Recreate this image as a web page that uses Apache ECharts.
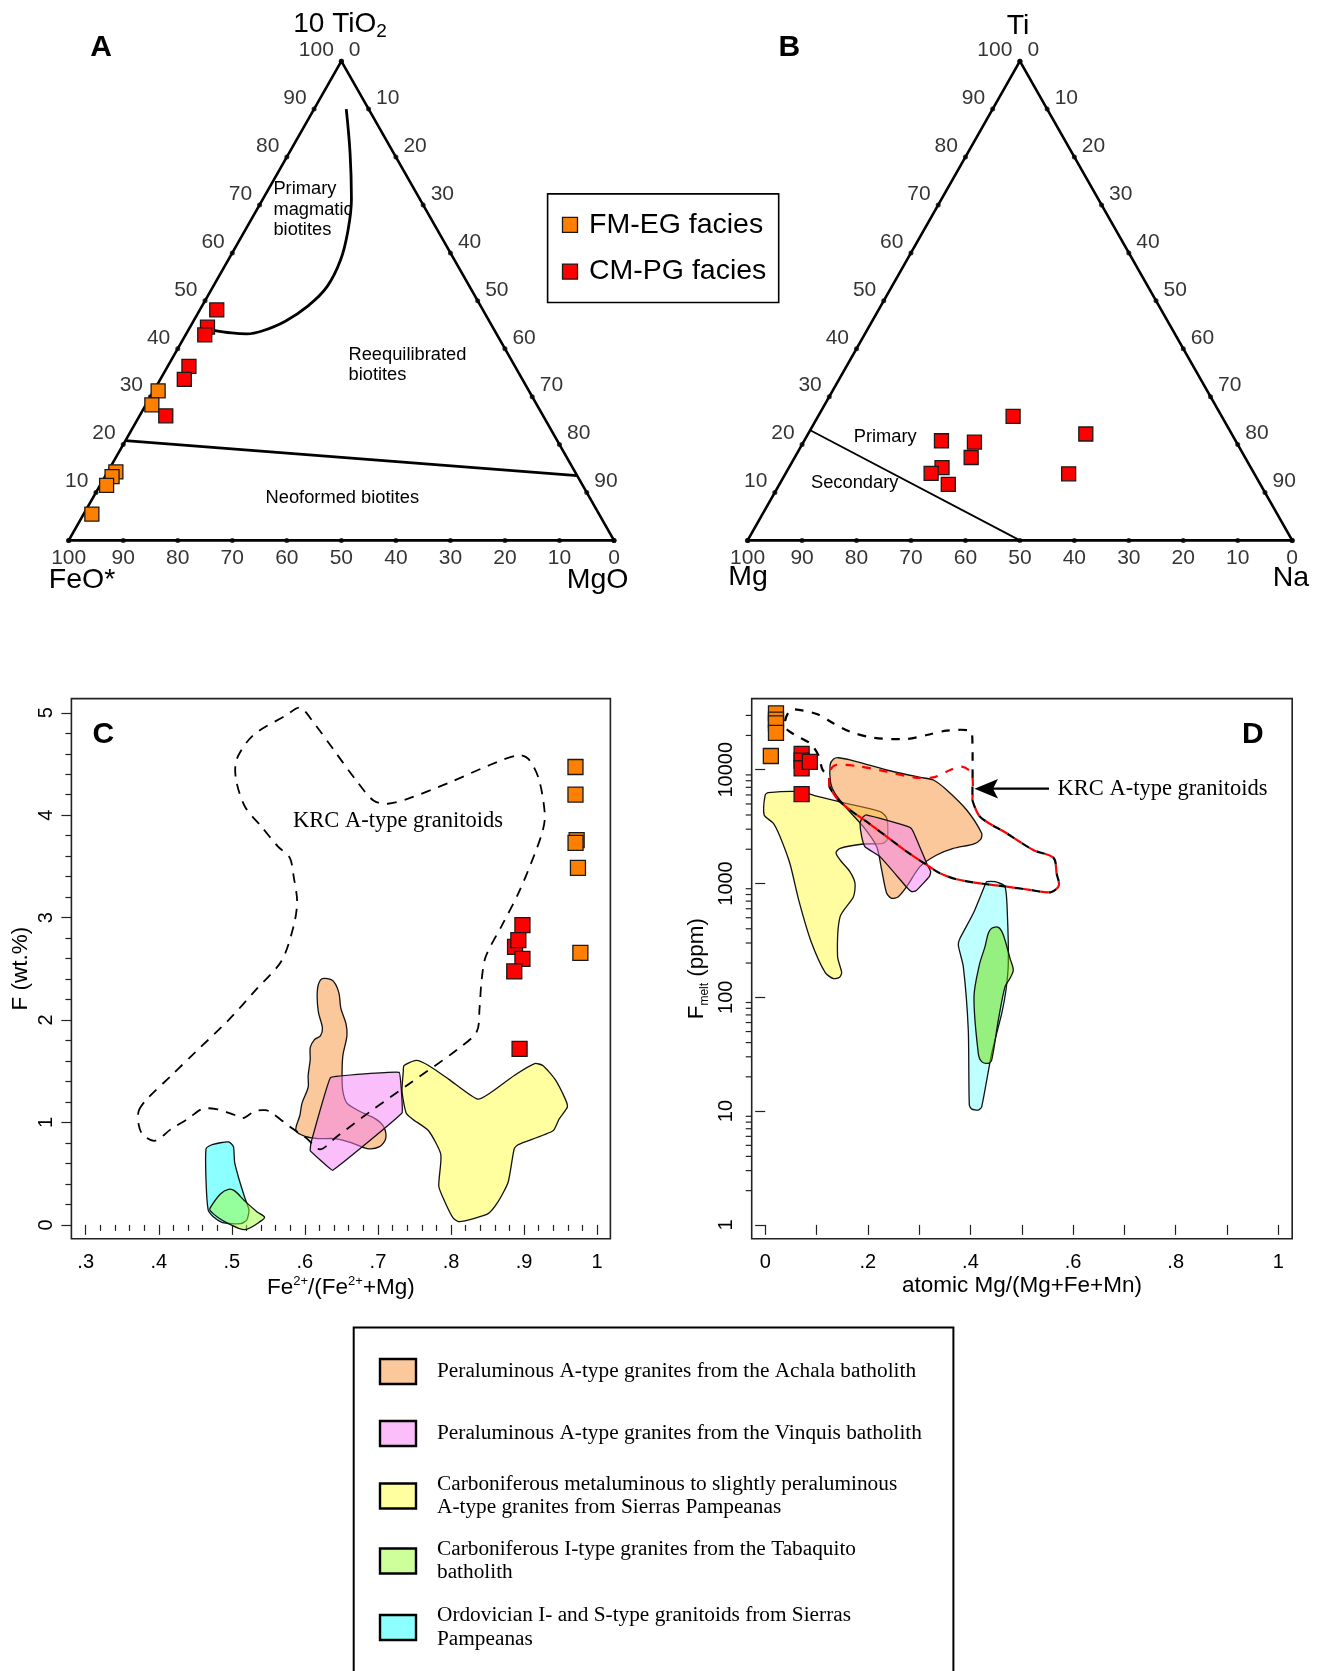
<!DOCTYPE html>
<html>
<head>
<meta charset="utf-8">
<title>Biotite and F diagrams</title>
<script src="https://cdn.jsdelivr.net/npm/echarts/dist/echarts.min.js"></script>
<style>
html, body { margin: 0; padding: 0; background: #fff; }
#chart { width: 1322px; height: 1671px; }
</style>
</head>
<body>
<div id="chart"></div>
<script>
var SANS = 'Liberation Sans, Arial, sans-serif';
var SERIF = 'Liberation Serif, Times New Roman, serif';

// ---- panel A : 10TiO2 - FeO* - MgO (%), [TiO2, MgO], FeO* is the rest
var aFmEgTiO2 = [31.2, 28.3, 14.3, 13.3, 11.5, 5.5];
var aFmEgMgO  = [0.8, 1.1, 1.5, 1.3, 1.2, 1.5];
var aCmPgTiO2 = [48.1, 44.5, 42.9, 36.3, 33.6, 26.0];
var aCmPgMgO  = [3.1, 3.2, 3.5, 3.9, 4.4, 4.8];
// primary / reequilibrated boundary
var aCurveTiO2 = [90.0, 80.8, 71.3, 64.9, 58.5, 52.9, 48.9, 45.7, 43.7, 43.1, 43.3, 43.9];
var aCurveMgO  = [5.9, 11.2, 16.2, 18.8, 20.6, 20.9, 19.4, 16.8, 13.6, 11.1, 8.2, 4.4];
// reequilibrated / neoformed boundary
var aLineTiO2 = [20.8, 13.5];
var aLineMgO  = [0, 86.5];

// ---- panel B : Ti - Mg - Na, [Ti, Na]
var bCmPgTi = [25.9, 20.8, 20.5, 22.2, 17.3, 15.2, 14.0, 11.7, 13.9];
var bCmPgNa = [35.8, 25.2, 31.4, 51.0, 32.4, 28.1, 26.7, 31.0, 52.0];
var bLineTi = [23.0, 0];
var bLineNa = [0, 50];

var ternaryTicks = [0, 10, 20, 30, 40, 50, 60, 70, 80, 90, 100];

// ---- panel C : Fe2+/(Fe2++Mg) vs F (wt.%)
var cFmEgX = [0.9704, 0.9704, 0.9720, 0.9705, 0.9738, 0.9771];
var cFmEgF = [4.471, 4.201, 3.757, 3.730, 3.486, 2.656];
var cCmPgX = [0.8978, 0.8877, 0.8922, 0.8978, 0.8866, 0.8939];
var cCmPgF = [2.927, 2.714, 2.780, 2.598, 2.475, 1.718];
var cKrc = [[0.3726,1.112],[0.3838,1.228],[0.4173,1.459],[0.4508,1.691],[0.4955,2.0],[0.5347,2.309],
  [0.5682,2.579],[0.5849,2.927],[0.5894,3.158],[0.5849,3.39],[0.5794,3.583],[0.5626,3.699],[0.5402,3.892],
  [0.5179,4.085],[0.5056,4.355],[0.5067,4.548],[0.5291,4.78],[0.5738,4.973],[0.5933,5.05],[0.6129,4.896],
  [0.6408,4.625],[0.6687,4.355],[0.6939,4.143],[0.7134,4.112],[0.7414,4.162],[0.7972,4.317],[0.8531,4.49],
  [0.8922,4.587],[0.9062,4.548],[0.9202,4.355],[0.9285,4.008],[0.9257,3.853],[0.9146,3.622],[0.8922,3.236],
  [0.8699,2.927],[0.8475,2.618],[0.8419,2.386],[0.8391,2.116],[0.8352,1.886],[0.8078,1.708],[0.7439,1.383],
  [0.6891,1.105],[0.6435,0.861],[0.6207,0.738],[0.6025,0.845],[0.5796,0.959],[0.5523,1.105],[0.5458,1.12],
  [0.5319,1.112],[0.5151,1.042],[0.5040,1.073],[0.4788,1.131],[0.4592,1.131],[0.4397,1.035],[0.4173,0.938],
  [0.3950,0.822],[0.3782,0.88],[0.3726,0.977]];
var cAchala = [[0.6240,2.405],[0.6380,2.386],[0.6464,2.270],[0.6492,2.116],[0.6564,1.961],[0.6576,1.846],
  [0.6520,1.652],[0.6509,1.459],[0.6520,1.305],[0.6576,1.189],[0.6743,1.112],[0.6967,1.035],[0.7079,0.958],
  [0.7106,0.842],[0.7023,0.764],[0.6855,0.745],[0.6632,0.803],[0.6408,0.842],[0.6185,0.842],[0.6017,0.861],
  [0.5877,0.919],[0.5933,1.073],[0.5961,1.189],[0.6045,1.344],[0.6045,1.459],[0.6073,1.614],[0.6073,1.730],
  [0.6129,1.807],[0.6213,1.846],[0.6240,1.923],[0.6185,2.077],[0.6168,2.232],[0.6185,2.347]];
var cVinquis = [[0.6352,1.440],[0.7291,1.490],[0.7330,1.093],[0.6380,0.533],[0.6073,0.726],[0.6084,0.803]];
var cYellow = [[0.7358,1.556],[0.7525,1.606],[0.7693,1.556],[0.7972,1.421],[0.8364,1.228],[0.8531,1.286],
  [0.8866,1.459],[0.9146,1.575],[0.9257,1.556],[0.9425,1.421],[0.9565,1.228],[0.9593,1.151],[0.9481,1.035],
  [0.9397,0.919],[0.8922,0.784],[0.8866,0.745],[0.8782,0.417],[0.8643,0.224],[0.8503,0.108],[0.8112,0.031],
  [0.8028,0.069],[0.7917,0.224],[0.7833,0.378],[0.7861,0.687],[0.7693,0.919],[0.7470,1.035],[0.7386,1.093],
  [0.7330,1.305],[0.7347,1.498]];
var cCyan = [[0.4648,0.745],[0.4732,0.784],[0.4955,0.811],[0.5022,0.764],[0.5039,0.610],[0.5095,0.456],
  [0.5179,0.263],[0.5235,0.147],[0.5207,0.050],[0.5123,0.012],[0.4872,0.023],[0.4732,0.089],[0.4676,0.147],
  [0.4648,0.417]];
var cGreen = [[0.4704,0.166],[0.4844,0.301],[0.4955,0.347],[0.5039,0.332],[0.5179,0.232],[0.5347,0.127],
  [0.5447,0.077],[0.5402,0.039],[0.5179,-0.046],[0.4955,0.012],[0.4816,0.069],[0.4704,0.139]];

// ---- panel D : atomic Mg/(Mg+Fe+Mn) vs F melt (ppm)
var dFmEgX = [0.021, 0.021, 0.021, 0.021, 0.011];
var dFmEgF = [31300, 27500, 25500, 21100, 13200];
var dCmPgX = [0.071, 0.071, 0.071, 0.087, 0.071];
var dCmPgF = [13800, 12000, 10300, 11700, 6100];
// KRC field: black outline (upper part), red outline (upper part), shared lower part
var dKrcUpperBlack = [[0.1250,7100],[0.1230,8980],[0.1120,9940],[0.1035,13460],[0.0873,17060],[0.0645,19500],
  [0.0419,22650],[0.0386,26410],[0.0450,31700],[0.0548,33900],[0.1004,30850],[0.1327,25580],[0.1653,21580],
  [0.2107,19100],[0.2758,18620],[0.3148,20190],[0.3537,22030],[0.3991,22030],[0.4037,18880],[0.4037,5420]];
var dKrcUpperRed = [[0.1250,7100],[0.1267,9800],[0.1380,10990],[0.1783,10770],[0.2368,9610],[0.2886,8570],
  [0.3276,8570],[0.3607,9940],[0.3830,10630],[0.4025,9300],[0.4037,5420]];
var dKrcLower = [[0.4037,5420],[0.4186,3865],[0.4707,2762],[0.5225,1969],[0.5619,1679],[0.5681,1217],[0.5722,959],
  [0.5562,837],[0.5124,884],[0.4707,938],[0.4186,1004],[0.3731,1089],[0.3407,1230],[0.3147,1456],
  [0.2758,1906],[0.2368,2579],[0.1978,3490],[0.1653,4425],[0.1393,5610],[0.1250,7100]];
var dAchala = [[0.1425,12740],[0.1653,12170],[0.2368,9940],[0.3017,8570],[0.3276,8120],[0.3537,6640],
  [0.3927,4425],[0.4219,2762],[0.4200,2445],[0.4056,2223],[0.3666,2037],[0.3342,1779],[0.3017,1406],
  [0.2758,938],[0.2594,766],[0.2465,741],[0.2368,820],[0.2270,1315],[0.2173,2104],[0.1912,3155],
  [0.1588,4580],[0.1360,6205],[0.1277,7590],[0.1265,10990],[0.1327,12340]];
var dVinquis = [[0.1884,3740],[0.1965,4000],[0.2822,3119],[0.2886,2851],[0.3147,1506],[0.3225,1271],
  [0.3198,1148],[0.2939,864],[0.2855,847],[0.2758,927],[0.2237,1722],[0.1945,2105],[0.1880,2579],[0.1848,3380]];
var dYellow = [[0.000,5995],[0.006,6280],[0.068,6410],[0.100,5870],[0.152,5130],[0.224,4275],[0.237,3740],
  [0.238,2445],[0.229,2255],[0.191,2223],[0.146,2037],[0.138,1866],[0.146,1609],[0.165,1271],[0.175,1005],
  [0.172,766],[0.146,511],[0.141,229],[0.149,165],[0.145,150],[0.133,146],[0.117,165],[0.089,313],
  [0.066,696],[0.048,1506],[0.029,2579],[0.016,3380],[-0.002,4000]];
var dCyan = [[0.4317,1037],[0.4479,1037],[0.4674,938],[0.4719,547],[0.4738,199],[0.4693,116],[0.4609,72],
  [0.4414,32.2],[0.4219,10.9],[0.4153,10.2],[0.4025,10.4],[0.3978,11.3],[0.3958,51.6],[0.3861,186],
  [0.3763,288],[0.3797,330],[0.4056,547],[0.4284,970]];
var dGreen = [[0.4414,404],[0.4544,412],[0.4641,353],[0.4771,220],[0.4835,174],[0.4771,147],[0.4674,124],
  [0.4544,63.2],[0.4414,28.1],[0.4348,26.3],[0.4219,27.2],[0.4153,32.2],[0.4069,101],[0.4173,192],
  [0.4284,279],[0.4348,365]];
var dMinorTicks = [2,3,4,5,6,7,8,9,20,30,40,50,60,70,80,90,200,300,400,500,600,700,800,900,
  2000,3000,4000,5000,6000,7000,8000,9000,20000,30000];

// legend
var facies = ['FM-EG facies', 'CM-PG facies'];
var faciesColors = ['#FF8000', '#FF0000'];
var fieldLabels = ['Peraluminous A-type granites from the Achala batholith',
  'Peraluminous A-type granites from the Vinquis batholith',
  'Carboniferous metaluminous to slightly peraluminous\nA-type granites from Sierras Pampeanas',
  'Carboniferous I-type granites from the Tabaquito\nbatholith',
  'Ordovician I- and S-type granitoids from Sierras\nPampeanas'];
var fieldColors = ['#FAC89B', '#FBBEFA', '#FFFFA0', '#CDFF9B', '#8CFFFF'];

// ---------- helpers ----------
// ternary (top, right) -> cartesian in a 0..100 box, apex at (50,100)
function tern(top, right) { return [right + top / 2, top]; }
function zip(a, b) { return a.map(function (v, i) { return [v, b[i]]; }); }
function logPts(pts) { return pts.map(function (p) { return [p[0], Math.log10(p[1])]; }); }

function edgeSeries(gi, pts, labels, pos, offset) {
  return {
    type: 'scatter', xAxisIndex: gi, yAxisIndex: gi, silent: true, z: 4, clip: false,
    symbol: 'circle', symbolSize: 5, itemStyle: { color: '#000' },
    data: pts.map(function (p, i) {
      return { value: p, label: { show: labels[i] !== '', formatter: String(labels[i]) } };
    }),
    label: { position: pos, distance: 5, offset: offset, fontSize: 21, fontFamily: SANS, color: '#000' }
  };
}
function ternaryFrame(gi) {
  var s = [];
  s.push({ type: 'line', xAxisIndex: gi, yAxisIndex: gi, silent: true, clip: false, z: 3, symbol: 'none',
    data: [tern(0, 0), tern(0, 100), tern(100, 0), tern(0, 0)],
    lineStyle: { color: '#000', width: 2.6 } });
  s.push(edgeSeries(gi, ternaryTicks.map(function (t) { return tern(t, 0); }),
    ternaryTicks.map(function (t) { return t > 0 ? t : ''; }), 'left', [0, -11]));
  s.push(edgeSeries(gi, ternaryTicks.map(function (t) { return tern(100 - t, t); }),
    ternaryTicks.map(function (t) { return t < 100 ? t : ''; }), 'right', [0, -11]));
  s.push(edgeSeries(gi, ternaryTicks.map(function (t) { return tern(0, 100 - t); }),
    ternaryTicks, 'bottom', [0, 0]));
  return s;
}
function lineSeries(gi, pts, width, smooth) {
  return { type: 'line', xAxisIndex: gi, yAxisIndex: gi, silent: true, clip: false, z: 3, symbol: 'none',
    smooth: smooth || false, data: pts, lineStyle: { color: '#000', width: width } };
}
function squares(gi, pts, color, size) {
  return { type: 'scatter', xAxisIndex: gi, yAxisIndex: gi, silent: true, clip: false, z: 6,
    symbol: 'rect', symbolSize: size, data: pts,
    itemStyle: { color: color, borderColor: '#1a1a1a', borderWidth: 1.3, opacity: 1 } };
}
function shape(gi, pts, fill, stroke, opt) {
  opt = opt || {};
  return {
    type: 'custom', xAxisIndex: gi, yAxisIndex: gi, silent: true, clip: false, z: opt.z || 2,
    data: [[0.5, 0.5]],
    renderItem: function (params, api) {
      return {
        type: opt.open ? 'polyline' : 'polygon',
        shape: { points: pts.map(function (p) { return api.coord(p); }), smooth: opt.smooth || 0 },
        style: { fill: fill, stroke: stroke, lineWidth: opt.lw || 1.3,
          lineDash: opt.dash || null, lineDashOffset: opt.dashOffset || 0 }
      };
    }
  };
}

// ---------- series ----------
var series = [];
// A
series = series.concat(ternaryFrame(0));
series.push(lineSeries(0, aCurveTiO2.map(function (t, i) { return tern(t, aCurveMgO[i]); }), 2.8, 0.4));
series.push(lineSeries(0, aLineTiO2.map(function (t, i) { return tern(t, aLineMgO[i]); }), 2.8));
series.push(squares(0, aFmEgTiO2.map(function (t, i) { return tern(t, aFmEgMgO[i]); }), faciesColors[0], 14));
series.push(squares(0, aCmPgTiO2.map(function (t, i) { return tern(t, aCmPgMgO[i]); }), faciesColors[1], 14));
// B
series = series.concat(ternaryFrame(1));
series.push(lineSeries(1, bLineTi.map(function (t, i) { return tern(t, bLineNa[i]); }), 1.8));
series.push(squares(1, bCmPgTi.map(function (t, i) { return tern(t, bCmPgNa[i]); }), faciesColors[1], 14));
// C
series.push(shape(3, cAchala, 'rgba(245,145,55,0.5)', '#111', { smooth: 0.3 }));
series.push(shape(3, cVinquis, 'rgba(245,125,245,0.5)', '#111', { smooth: 0.05 }));
series.push(shape(3, cYellow, 'rgba(255,255,65,0.5)', '#111', { smooth: 0.2 }));
series.push(shape(3, cCyan, 'rgba(25,255,255,0.5)', '#111', { smooth: 0.2 }));
series.push(shape(3, cGreen, 'rgba(155,255,55,0.5)', '#111', { smooth: 0.3 }));
series.push(shape(3, cKrc, null, '#000', { smooth: 0.3, dash: [10, 8], lw: 1.8, z: 3 }));
series.push(squares(3, zip(cFmEgX, cFmEgF), faciesColors[0], 15));
series.push(squares(3, zip(cCmPgX, cCmPgF), faciesColors[1], 15));
// D
series.push(shape(5, logPts(dYellow), 'rgba(255,251,65,0.5)', '#111', { smooth: 0.25 }));
series.push(shape(5, logPts(dAchala), 'rgba(245,145,55,0.5)', '#111', { smooth: 0.25 }));
series.push(shape(5, logPts(dVinquis), 'rgba(245,125,245,0.5)', '#111', { smooth: 0.15 }));
series.push(shape(5, logPts(dCyan), 'rgba(125,255,255,0.5)', '#111', { smooth: 0.2 }));
series.push(shape(5, logPts(dGreen), 'rgba(110,225,0,0.5)', '#111', { smooth: 0.3 }));
series.push(shape(5, logPts(dKrcUpperBlack), null, '#000', { open: true, smooth: 0.3, dash: [8.5, 8.5], lw: 2.2, z: 3 }));
series.push(shape(5, logPts(dKrcUpperRed), null, '#FF0000', { open: true, smooth: 0.3, dash: [8.5, 8.5], lw: 2.2, z: 3 }));
series.push(shape(5, logPts(dKrcLower), null, '#000', { open: true, smooth: 0.3, dash: [8.5, 8.5], lw: 2.2, z: 3 }));
series.push(shape(5, logPts(dKrcLower), null, '#FF0000',
  { open: true, smooth: 0.3, dash: [8.5, 8.5], dashOffset: 8.5, lw: 2.2, z: 3 }));
series.push(squares(5, logPts(zip(dFmEgX, dFmEgF)), faciesColors[0], 15));
series.push(squares(5, logPts(zip(dCmPgX, dCmPgF)), faciesColors[1], 15));
// D log minor ticks on the frame's left edge
series.push({
  type: 'custom', xAxisIndex: 5, yAxisIndex: 5, silent: true, clip: false, z: 4,
  data: dMinorTicks.map(function (v) { return [-0.0263, Math.log10(v)]; }),
  renderItem: function (params, api) {
    var p = api.coord([api.value(0), api.value(1)]);
    return { type: 'line', shape: { x1: p[0] - 6, y1: p[1], x2: p[0], y2: p[1] },
      style: { stroke: '#222', lineWidth: 1.2 } };
  }
});

// ---------- axes ----------
function hiddenAxis(gi) { return { gridIndex: gi, type: 'value', min: 0, max: 100, show: false }; }
function nameOnlyAxis(gi, name, gap, rich) {
  return { gridIndex: gi, type: 'value', min: 0, max: 1, show: true,
    axisLine: { show: false }, axisTick: { show: false }, axisLabel: { show: false },
    splitLine: { show: false }, name: name, nameLocation: 'middle', nameGap: gap, nameMoveOverlap: false,
    nameTextStyle: { fontSize: 22.5, fontFamily: SANS, color: '#000', rich: rich } };
}
var tickStyle = { show: true, length: 10, lineStyle: { color: '#222', width: 1.2 } };
var minorStyle = { show: true, length: 6, splitNumber: 5, lineStyle: { color: '#222', width: 1.2 } };
var labelStyle = { fontSize: 20, fontFamily: SANS, color: '#000', showMinLabel: true, showMaxLabel: true };
var supRich = {
  n: { fontSize: 22.5, fontFamily: SANS, color: '#000', lineHeight: 26 },
  s: { fontSize: 13, fontFamily: SANS, color: '#000', lineHeight: 13, verticalAlign: 'top' }
};
var subRich = {
  n: { fontSize: 22.5, fontFamily: SANS, color: '#000', lineHeight: 28 },
  s: { fontSize: 12, fontFamily: SANS, color: '#000', lineHeight: 12, verticalAlign: 'bottom' }
};

var xAxes = [
  hiddenAxis(0), hiddenAxis(1),
  nameOnlyAxis(2, '{n|Fe}{s|2+}{n|/(Fe}{s|2+}{n|+Mg)}', 36, supRich),
  { gridIndex: 3, type: 'value', min: 0.3, max: 1, interval: 0.1, offset: 13.8,
    axisLine: { show: false }, axisTick: tickStyle, minorTick: minorStyle, splitLine: { show: false },
    minorSplitLine: { show: false },
    axisLabel: Object.assign({ margin: 14, formatter: function (v) {
      return Math.abs(v - 1) < 1e-9 ? '1' : v.toFixed(1).replace(/^0/, ''); } }, labelStyle) },
  nameOnlyAxis(4, 'atomic Mg/(Mg+Fe+Mn)', 36),
  { gridIndex: 5, type: 'value', min: 0, max: 1, interval: 0.1, offset: 13.8,
    axisLine: { show: false }, axisTick: tickStyle, splitLine: { show: false },
    axisLabel: Object.assign({ margin: 14, formatter: function (v) {
      var k = Math.round(v * 10);
      if (k % 2) return '';
      if (k === 0) return '0';
      if (k === 10) return '1';
      return '.' + k; } }, labelStyle) }
];
var yAxes = [
  hiddenAxis(0), hiddenAxis(1),
  nameOnlyAxis(2, 'F (wt.%)', 39),
  { gridIndex: 3, type: 'value', min: 0, max: 5, interval: 1, offset: 14.3,
    axisLine: { show: false }, axisTick: tickStyle, minorTick: minorStyle, splitLine: { show: false },
    minorSplitLine: { show: false },
    axisLabel: Object.assign({ margin: 15, rotate: 90 }, labelStyle) },
  nameOnlyAxis(4, '{n|F}{s|melt}{n| (ppm)}', 41, subRich),
  { gridIndex: 5, type: 'value', min: 0, max: 4, interval: 1, offset: 13.5,
    axisLine: { show: false }, axisTick: tickStyle, splitLine: { show: false },
    axisLabel: Object.assign({ margin: 15, rotate: 90, formatter: function (v) {
      return String(Math.round(Math.pow(10, v))); } }, labelStyle) }
];

var frameGrid = { show: true, borderColor: '#222', borderWidth: 1.6, backgroundColor: 'transparent' };
var grids = [
  { left: 68.7, top: 61.2, width: 545.3, height: 479.2 },
  { left: 747.6, top: 61.2, width: 544.6, height: 479.2 },
  Object.assign({ left: 71.4, top: 698.6, width: 539, height: 540.1 }, frameGrid),
  { left: 85.7, top: 712.8, width: 511.4, height: 512.1 },
  Object.assign({ left: 751.7, top: 698.6, width: 540.5, height: 540.1 }, frameGrid),
  { left: 765.2, top: 769.7, width: 513.1, height: 455.2 }
].map(function (g) { g.containLabel = false; g.outerBoundsMode = 'none'; return g; });

// ---------- free text / legends ----------
function txt(x, y, text, size, o) {
  o = o || {};
  return { type: 'text', x: x, y: y, silent: true, z: 10,
    style: { text: text, fontSize: size, fontFamily: o.family || SANS, fontWeight: o.weight || 'normal',
      fill: '#000', align: o.align || 'center', verticalAlign: 'middle', lineHeight: o.lh, rich: o.rich } };
}
var graphics = [
  txt(101.2, 47.9, 'A', 30, { weight: 'bold' }),
  txt(789.4, 47.9, 'B', 30, { weight: 'bold' }),
  txt(103.3, 735, 'C', 30, { weight: 'bold' }),
  txt(1252.8, 735, 'D', 30, { weight: 'bold' }),
  txt(340, 24, '{a|10 TiO}{b|2}', 28, { rich: {
    a: { fontSize: 28, fontFamily: SANS, lineHeight: 34 },
    b: { fontSize: 19, fontFamily: SANS, lineHeight: 19, verticalAlign: 'bottom' } } }),
  txt(82, 580.6, 'FeO*', 28.5), txt(597.6, 580.6, 'MgO', 28.5),
  txt(1018, 26, 'Ti', 28.5), txt(748, 577, 'Mg', 28.5), txt(1291, 578.5, 'Na', 28.5),
  txt(273.4, 209.5, 'Primary\nmagmatic\nbiotites', 18.3, { align: 'left', lh: 20.3 }),
  txt(348.5, 365, 'Reequilibrated\nbiotites', 18.3, { align: 'left', lh: 20.3 }),
  txt(342.3, 498.3, 'Neoformed biotites', 18.3),
  txt(885.2, 437.4, 'Primary', 18.3),
  txt(854.7, 483, 'Secondary', 18.3),
  txt(398, 821.2, 'KRC A-type granitoids', 22.5, { family: SERIF }),
  txt(1057.6, 788.7, 'KRC A-type granitoids', 22.5, { family: SERIF, align: 'left' }),
  { type: 'line', silent: true, z: 10, shape: { x1: 1049, y1: 788.7, x2: 990, y2: 788.7 },
    style: { stroke: '#000', lineWidth: 2.2 } },
  { type: 'polygon', silent: true, z: 10,
    shape: { points: [[974.5, 788.7], [998, 779], [993, 788.7], [998, 798.4]] },
    style: { fill: '#000' } },
  // facies legend
  { type: 'rect', silent: true, z: 10, shape: { x: 547.6, y: 193.9, width: 231.1, height: 108.6 },
    style: { fill: '#fff', stroke: '#000', lineWidth: 1.6 } }
];
facies.forEach(function (f, i) {
  var cy = 224.8 + i * 46.8;
  graphics.push({ type: 'rect', silent: true, z: 11, shape: { x: 562.5, y: cy - 7.5, width: 15, height: 15 },
    style: { fill: faciesColors[i], stroke: '#1a1a1a', lineWidth: 1.3 } });
  graphics.push(txt(589, cy, f, 28.5, { align: 'left' }));
});
// field legend
graphics.push({ type: 'rect', silent: true, z: 10, shape: { x: 353.7, y: 1327.4, width: 599.7, height: 400 },
  style: { fill: '#fff', stroke: '#000', lineWidth: 2 } });
var fieldY = [1371.5, 1433.5, 1496, 1561, 1627.5];
fieldLabels.forEach(function (l, i) {
  graphics.push({ type: 'rect', silent: true, z: 11,
    shape: { x: 380, y: fieldY[i] - 12.5, width: 36, height: 25 },
    style: { fill: fieldColors[i], stroke: '#000', lineWidth: 2.4 } });
  graphics.push(txt(437, fieldY[i], l, 21.3, { family: SERIF, align: 'left', lh: 23.6 }));
});

var chart = echarts.init(document.getElementById('chart'), null, { renderer: 'canvas', width: 1322, height: 1671 });
chart.setOption({
  animation: false,
  backgroundColor: '#fff',
  grid: grids,
  xAxis: xAxes,
  yAxis: yAxes,
  series: series,
  graphic: { elements: graphics }
});
</script>
</body>
</html>
